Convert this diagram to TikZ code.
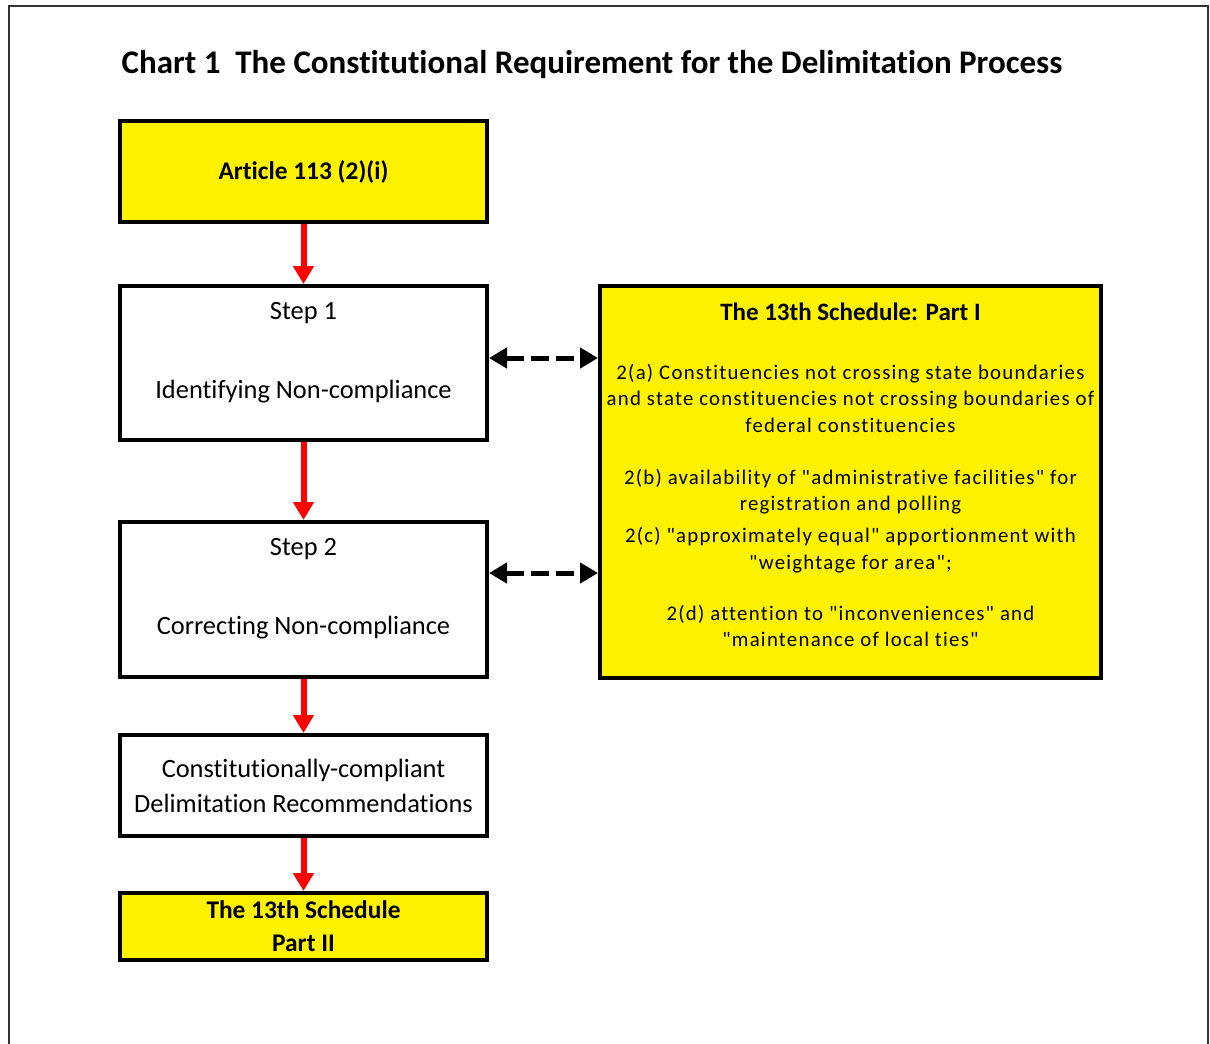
\documentclass[tikz,border=0pt]{standalone}
\usepackage{fontspec}
\setmainfont{Carlito}[Ligatures={TeX,NoCommon}]
\newfontfamily\widefont[LetterSpace=6,Ligatures=NoCommon]{Carlito}
\usetikzlibrary{arrows.meta,positioning}
\tikzstyle{block} = [rectangle, draw, line width=2pt, align=center,
    minimum width=183.5pt, font=\fontsize{13.2}{15.84}\selectfont]
\tikzstyle{yblock} = [block, fill=yellow, font=\bfseries\fontsize{12.7}{16.5}\selectfont]
\tikzstyle{flow} = [draw=red, line width=3pt, -{Triangle[width=10pt,length=9pt]}]
\tikzstyle{link} = [draw=black, line width=2.5pt, dash pattern=on 9pt off 3.5pt,
    {Triangle[width=10pt,length=9pt]}-{Triangle[width=10pt,length=9pt]}]

\begin{document}
\begin{tikzpicture}[x=0.5pt,y=-0.5pt]
  \useasboundingbox (0,0) rectangle (1210,1044);
  \draw[line width=1pt, black!80] (9,1044) -- (9,6) -- (1208,6) -- (1208,1044);

  \node[font=\bfseries\fontsize{16.5}{19.8}\selectfont] (title) at (592,65)
    {Chart 1\ \ The Constitutional Requirement for the Delimitation Process};

  \node[yblock, minimum height=50.5pt] (art) at (303.5,171.5) {Article 113 (2)(i)};
  \node[block, minimum height=77pt, below=30pt of art] (s1)
    {Step 1\\[23.7pt]Identifying Non-compliance\\[-3pt]\mbox{}};
  \node[block, minimum height=77.5pt, below=39pt of s1] (s2)
    {Step 2\\[23.7pt]Correcting Non-compliance\\[-3pt]\mbox{}};
  \node[block, minimum height=50.5pt, below=27pt of s2] (rec)
    {Constitutionally-compliant\\[1.7pt]Delimitation Recommendations};
  \node[yblock, minimum height=33.5pt, below=26.5pt of rec] (p2)
    {The 13th Schedule\\Part II};

  \node[yblock, minimum width=249.5pt, minimum height=196pt,
        font=\widefont\fontsize{10.4}{13.25}\selectfont,
        right=54.5pt of s1.north east, anchor=north west] (sch)
    {{\rmfamily\bfseries\fontsize{12.5}{13.25}\selectfont The 13th Schedule: Part I}\\[16pt]
     2(a) Constituencies not crossing state boundaries\\
     and state constituencies not crossing boundaries of\\
     federal constituencies\\[12.75pt]
     2(b) availability of "administrative facilities" for\\
     registration and polling\\[2.75pt]
     2(c) "approximately equal" apportionment with\\
     "weightage for area";\\[12.25pt]
     2(d) attention to "inconveniences" and\\
     "maintenance of local ties"\\[-6pt]\mbox{}};

  \draw[flow] (art) -- (s1);
  \draw[flow] (s1) -- (s2);
  \draw[flow] (s2) -- (rec);
  \draw[flow] (rec) -- (p2);

  \coordinate (l1) at ([yshift=2.5pt]s1.east);
  \coordinate (l2) at ([yshift=13.25pt]s2.east);
  \draw[link] (l1) -- (l1 -| sch.west);
  \draw[link] (l2) -- (l2 -| sch.west);
\end{tikzpicture}
\end{document}
